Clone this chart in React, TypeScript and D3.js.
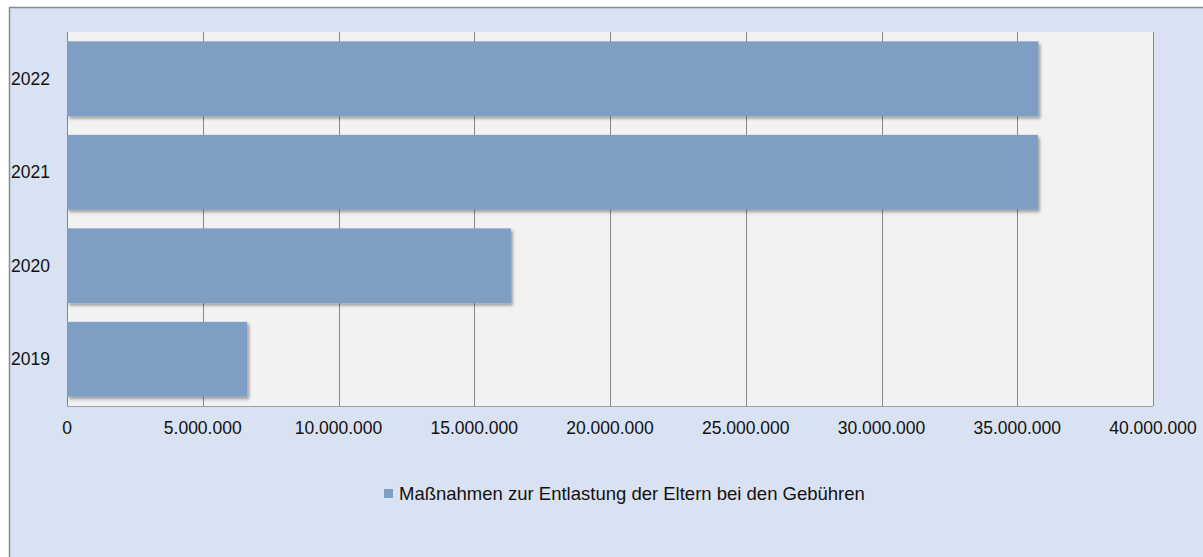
import React from "react";
import * as d3 from "d3";

const categories = ["2022", "2021", "2020", "2019"];
const values = [35780000, 35760000, 16350000, 6640000];
const xTicks = [0, 5000000, 10000000, 15000000, 20000000, 25000000, 30000000, 35000000, 40000000];
const seriesName = "Maßnahmen zur Entlastung der Eltern bei den Gebühren";

const W = 1203;
const H = 557;
const plot = { left: 67, right: 1153, top: 32, bottom: 406 };
const FONT = "'Liberation Sans', Arial, sans-serif";

function fmt(v: number) {
  return d3.format(",")(v).replace(/,/g, ".");
}

export default function App() {
  const x = d3.scaleLinear().domain([0, 40000000]).range([plot.left, plot.right]);
  const y = d3.scaleBand().domain(categories).range([plot.top, plot.bottom]).paddingInner(0.2).paddingOuter(0.1);
  return (
    <svg width={W} height={H} style={{ position: "absolute", left: 0, top: 0 }} fontFamily={FONT}>
      <defs>
        <filter id="sh" x="-5%" y="-20%" width="115%" height="150%">
          <feDropShadow dx="2" dy="2.5" stdDeviation="1.5" floodColor="#000" floodOpacity="0.35" />
        </filter>
      </defs>
      <rect x={9.5} y={7.5} width={W + 10} height={H + 10} fill="#D9E2F3" stroke="#8C8C8C" strokeWidth={1.5} />
      <rect x={plot.left} y={plot.top} width={plot.right - plot.left} height={plot.bottom - plot.top} fill="#F2F2F2" />
      {xTicks.map((t) => (
        <line key={t} x1={Math.round(x(t)) + 0.5} x2={Math.round(x(t)) + 0.5} y1={plot.top} y2={plot.bottom} stroke="#888888" strokeWidth={1} />
      ))}
      <line x1={plot.left} x2={plot.right} y1={plot.bottom + 0.5} y2={plot.bottom + 0.5} stroke="#A0A0A0" strokeWidth={1} />
      {categories.map((c, i) => (
        <rect key={c} x={x(0)} y={y(c)!} width={x(values[i]) - x(0)} height={y.bandwidth()} fill="#7F9EC3" filter="url(#sh)" />
      ))}
      {categories.map((c) => (
        <text key={c} x={11} y={y(c)! + y.bandwidth() / 2} dy="0.35em" fontSize={17.5} fill="#111">{c}</text>
      ))}
      {xTicks.map((t) => (
        <text key={t} x={x(t)} y={428} dy="0.35em" textAnchor="middle" fontSize={17.5} fill="#111">{fmt(t)}</text>
      ))}
      <rect x={384} y={489} width={9} height={9} fill="#7F9EC3" />
      <text x={399} y={493.5} dy="0.35em" fontSize={18.5} fill="#111">{seriesName}</text>
    </svg>
  );
}
